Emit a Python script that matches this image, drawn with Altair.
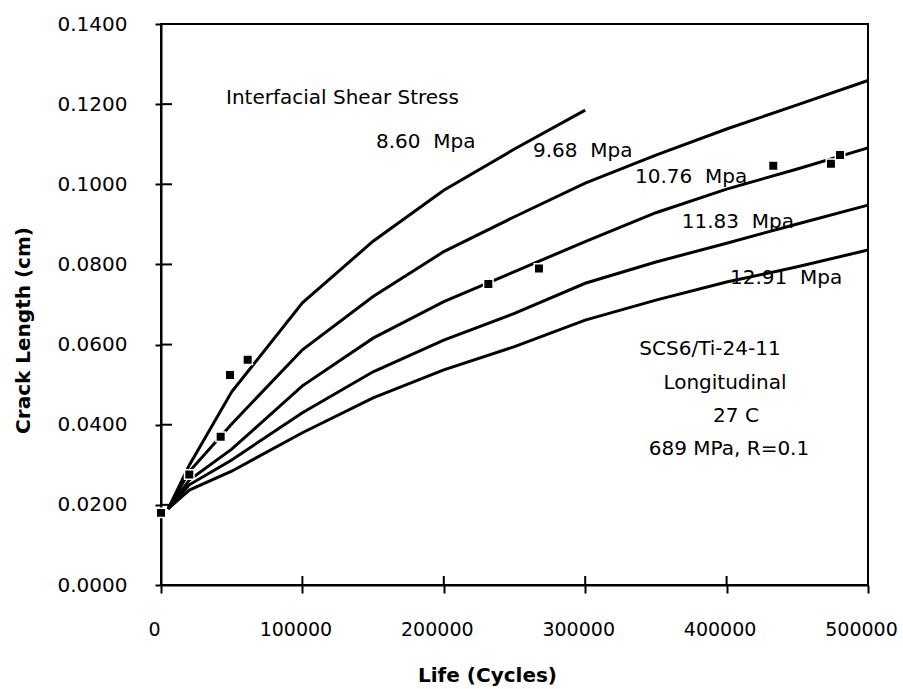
import altair as alt
import pandas as pd

# ---- data ----
x_grid = [5000, 20000, 50000, 100000, 150000, 200000, 250000, 300000, 350000, 400000, 450000, 500000]
s_860 = [0.0190, 0.0299, 0.0482, 0.0704, 0.0858, 0.0985, 0.1088, 0.1185]
s_968 = [0.0190, 0.0283, 0.0402, 0.0587, 0.0720, 0.0832, 0.0919, 0.1003, 0.1073, 0.1138, 0.1198, 0.1259]
s_1076 = [0.0190, 0.0262, 0.0339, 0.0497, 0.0616, 0.0707, 0.0782, 0.0857, 0.0929, 0.0988, 0.1038, 0.1091]
s_1183 = [0.0190, 0.0250, 0.0312, 0.0430, 0.0532, 0.0611, 0.0678, 0.0753, 0.0806, 0.0853, 0.0901, 0.0948]
s_1291 = [0.0190, 0.0237, 0.0284, 0.0380, 0.0467, 0.0537, 0.0595, 0.0661, 0.0711, 0.0756, 0.0794, 0.0836]
series_names = ["8.60", "9.68", "10.76", "11.83", "12.91"]

pts_x = [0, 20000, 42200, 48800, 61300, 231500, 267300, 433000, 473800, 480200]
pts_y = [0.0180, 0.0276, 0.0370, 0.0524, 0.0562, 0.0751, 0.0790, 0.1046, 0.1051, 0.1073]

x_ticks = [0, 100000, 200000, 300000, 400000, 500000]
y_ticks = [0.0, 0.02, 0.04, 0.06, 0.08, 0.10, 0.12, 0.14]

left_labels = ["Interfacial Shear Stress", "8.60\u00a0\u00a0Mpa", "9.68\u00a0\u00a0Mpa",
               "10.76\u00a0\u00a0Mpa", "11.83\u00a0\u00a0Mpa", "12.91\u00a0\u00a0Mpa"]
left_lx = [45970, 152050, 263080, 335220, 368250, 402400]
left_ly = [0.1200, 0.1090, 0.1067, 0.1002, 0.0892, 0.0750]

center_labels = ["SCS6/Ti-24-11", "Longitudinal", "27 C", "689 MPa, R=0.1"]
center_lx = [388260, 398870, 406650, 401700]
center_ly = [0.0574, 0.0490, 0.0408, 0.0324]

# ---- tables ----
rows = []
for name, vals in zip(series_names, [s_860, s_968, s_1076, s_1183, s_1291]):
    for xv, yv in zip(x_grid, vals):
        rows.append({"x": xv, "y": yv, "series": name})
lines_df = pd.DataFrame(rows)
pts_df = pd.DataFrame({"x": pts_x, "y": pts_y})
xt_df = pd.DataFrame({"x": x_ticks})
yt_df = pd.DataFrame({"y": y_ticks})
ltxt_df = pd.DataFrame({"x": left_lx, "y": left_ly, "t": left_labels})
ctxt_df = pd.DataFrame({"x": center_lx, "y": center_ly, "t": center_labels})

FONT = "DejaVu Sans"
xscale = alt.Scale(domain=[0, 500000], nice=False, zero=False)
yscale = alt.Scale(domain=[0, 0.14], nice=False, zero=False)
xaxis = alt.Axis(values=x_ticks, format="d", title="Life (Cycles)", grid=False,
                 tickSize=8, tickWidth=2, tickColor="black", domainColor="black", domainWidth=2,
                 labelFont=FONT, labelFontSize=19, labelColor="black", labelBaseline="alphabetic",
                 labelPadding=42, labelFlush=False, labelOffset=-7,
                 titleFont=FONT, titleFontSize=20, titleFontWeight="bold", titleColor="black",
                 titleX=326, titleY=96, titleBaseline="alphabetic", titleAlign="center")
yaxis = alt.Axis(values=y_ticks, format=".4f", title="Crack Length (cm)", grid=False,
                 tickSize=6, tickWidth=2, tickColor="black", domainColor="black", domainWidth=2,
                 labelFont=FONT, labelFontSize=20, labelColor="black", labelPadding=28,
                 labelFlush=False,
                 titleFont=FONT, titleFontSize=20, titleFontWeight="bold", titleColor="black",
                 titleX=-132, titleY=306, titleBaseline="alphabetic", titleAlign="center")

X = alt.X("x:Q", scale=xscale, axis=xaxis)
Y = alt.Y("y:Q", scale=yscale, axis=yaxis)

lines = alt.Chart(lines_df).mark_line(color="black", strokeWidth=3).encode(
    x=X, y=Y, detail="series:N", order="x:Q")
points = alt.Chart(pts_df).mark_point(shape="square", filled=True, fill="black", size=90,
                                       stroke="white", strokeWidth=1.5, opacity=1).encode(x=X, y=Y)
ytick_in = alt.Chart(yt_df).mark_rule(color="black", strokeWidth=2).encode(
    y=Y, x=alt.value(0), x2=alt.value(11))
xtick_in = alt.Chart(xt_df).mark_rule(color="black", strokeWidth=2).encode(
    x=X, y=alt.value(561), y2=alt.value(552))
ltxt = alt.Chart(ltxt_df).mark_text(align="left", baseline="alphabetic", font=FONT,
                                    fontSize=20, color="black").encode(x=X, y=Y, text="t:N")
ctxt = alt.Chart(ctxt_df).mark_text(align="center", baseline="alphabetic", font=FONT,
                                    fontSize=20, color="black").encode(x=X, y=Y, text="t:N")

chart = alt.layer(lines, points, ytick_in, xtick_in, ltxt, ctxt).properties(
    width=707, height=561,
    padding={"left": 161, "top": 24, "right": 35, "bottom": 104},
    autosize=alt.AutoSizeParams(type="none"),
    background="white",
).configure_view(stroke="black", strokeWidth=2)

chart.save("out.html", embed_options={"renderer": "svg", "actions": False})
